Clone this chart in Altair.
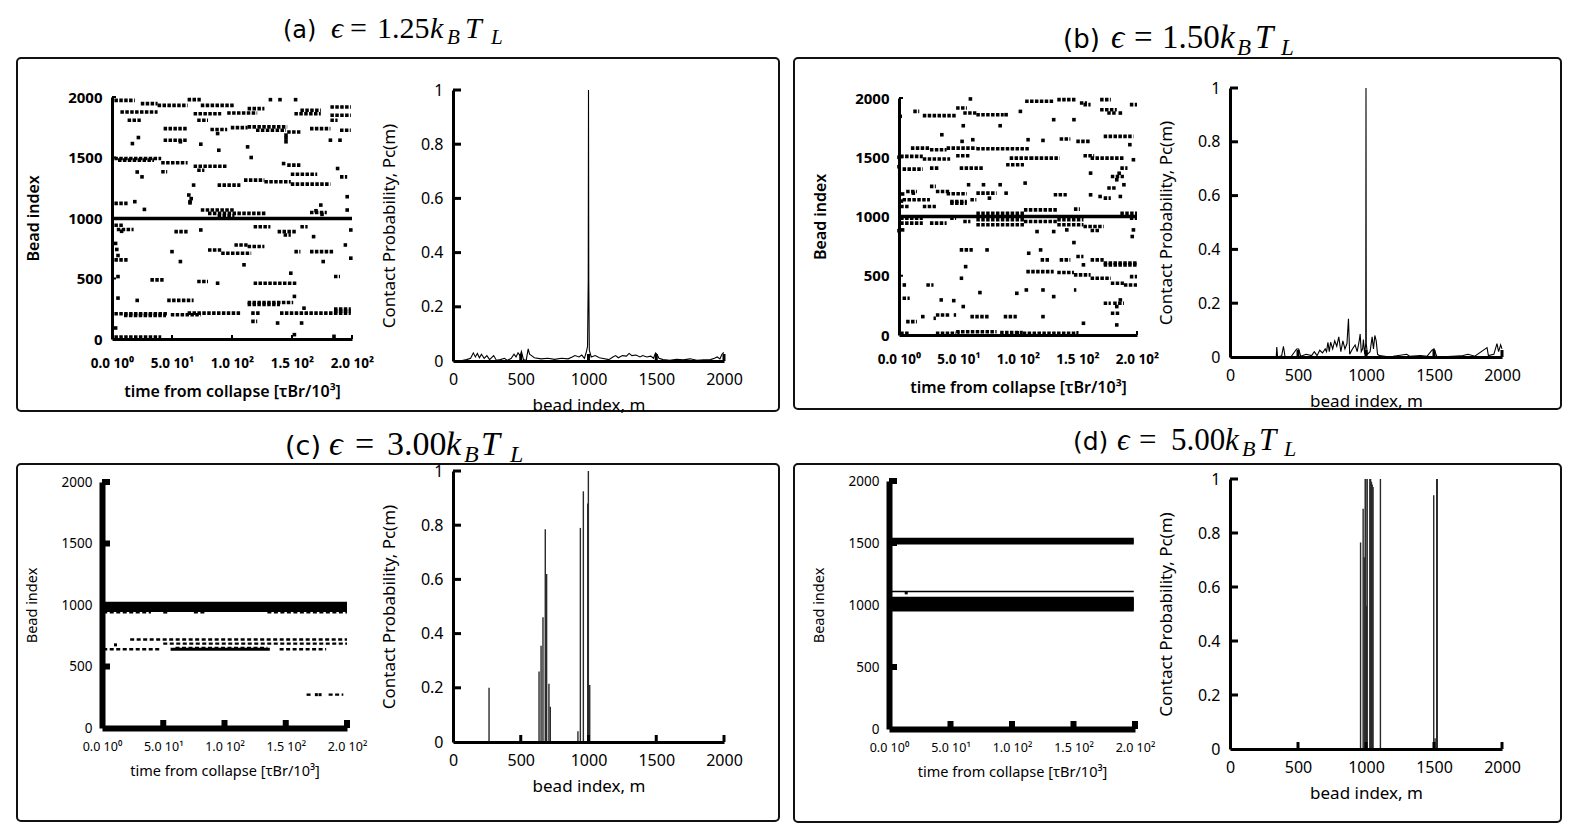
import altair as alt
import pandas as pd

# ----------------------------------------------------------------- data
TIME_TICKS = [0, 50, 100, 150, 200]
TIME_LABELS = ["0.0 10⁰", "5.0 10¹", "1.0 10²", "1.5 10²", "2.0 10²"]
BEAD_TICKS = [0, 500, 1000, 1500, 2000]
PROB_TICKS = [0, 0.2, 0.4, 0.6, 0.8, 1]
M_TICKS = [0, 500, 1000, 1500, 2000]

PANEL_TAGS = {"a": "(a)", "b": "(b)", "c": "(c)", "d": "(d)"}
EPS_VALUES = {"a": "1.25", "b": "1.50", "c": "3.00", "d": "5.00"}
TIME_TITLE = "time from collapse [τBr/10³]"
BEAD_TITLE = "Bead index"
PROB_TITLE = "Contact Probability, Pc(m)"
M_TITLE = "bead index, m"

# contact streaks seen in the bead-index vs time panels: (t_start, t_end, bead)
A_SOLID = [(0, 200, 995)]
A_STREAKS = [
    (2, 19, 1972), (24, 38, 1945), (38, 63, 1931), (63, 74, 1978), (74, 102, 1931), (113, 127, 1904),
    (157, 174, 1890), (182, 199, 1917),
    (7, 38, 1876), (68, 91, 1862), (96, 121, 1868), (152, 174, 1862), (182, 199, 1849),
    (13, 24, 1808), (71, 80, 1808), (182, 188, 1808),
    (43, 63, 1739), (82, 96, 1731), (99, 113, 1747), (113, 146, 1753), (120, 145, 1725), (146, 157, 1711),
    (165, 182, 1739), (190, 199, 1725),
    (43, 63, 1643),
    (2, 41, 1492), (5, 35, 1478), (41, 63, 1456), (68, 96, 1428), (146, 157, 1437),
    (41, 46, 1382), (71, 77, 1395), (149, 171, 1362),
    (110, 127, 1313), (127, 149, 1299), (149, 182, 1280), (88, 107, 1272), (190, 196, 1340),
    (2, 13, 1121),
    (74, 102, 1066), (80, 129, 1038), (88, 102, 1016), (165, 179, 1045),
    (2, 10, 940), (4, 18, 905), (52, 63, 887), (118, 132, 928), (138, 154, 887), (157, 163, 928),
    (143, 149, 860),
    (80, 91, 736), (91, 116, 709), (102, 113, 777), (113, 127, 764), (152, 157, 722), (165, 185, 722),
    (193, 196, 777),
    (2, 13, 654),
    (32, 43, 489), (71, 80, 475), (118, 154, 461), (185, 190, 516),
    (46, 68, 319), (113, 151, 302), (113, 140, 285), (185, 199, 247),
    (2, 46, 209), (10, 45, 195), (49, 74, 200), (63, 107, 214), (116, 124, 214), (140, 185, 214),
    (185, 199, 214), (185, 199, 230),
    (116, 121, 146),
    (2, 41, 16),
]
A_DOTS = [
    (132, 1978), (140, 1978), (153, 1978),
    (22, 1665), (88, 1698), (145, 1685), (145, 1660), (145, 1630), (190, 1643), (57, 1630),
    (17, 1615), (74, 1610), (89, 1560), (113, 1588), (182, 1643),
    (116, 1500), (143, 1450),
    (21, 1380), (25, 1340), (188, 1409),
    (68, 1272),
    (64, 1190), (66, 1160), (65, 1125),
    (19, 1135), (174, 1107), (196, 1176), (65, 1135),
    (27, 1071), (196, 1066), (170, 1060), (175, 1030),
    (74, 901), (199, 901), (8, 890),
    (168, 846),
    (3, 790), (4, 740), (5, 690), (50, 722), (57, 640),
    (110, 613), (176, 640), (199, 668),
    (5, 516), (88, 461), (149, 544),
    (5, 338), (21, 319), (152, 352), (160, 255),
    (138, 132), (158, 132),
    (152, 36), (185, 22), (3, 91),
]

B_SOLID = [(0, 200, 1000)]
B_STREAKS = [
    (106, 130, 1972), (133, 149, 1986), (152, 158, 1958), (169, 178, 1986), (155, 161, 1944), (194, 200, 1944),
    (12, 17, 1887), (20, 48, 1851), (48, 57, 1916), (54, 65, 1873), (65, 88, 1859), (169, 183, 1901),
    (175, 183, 1873),
    (172, 197, 1676), (135, 144, 1654), (149, 161, 1634), (107, 110, 1648),
    (10, 26, 1577), (26, 40, 1563), (40, 65, 1577), (65, 110, 1572),
    (1, 20, 1507), (20, 43, 1485), (48, 60, 1513), (93, 110, 1493), (110, 135, 1493), (155, 164, 1513),
    (161, 189, 1493),
    (90, 105, 1437),
    (3, 20, 1400), (26, 34, 1408), (51, 71, 1408), (186, 192, 1408),
    (178, 189, 1338),
    (26, 31, 1254), (57, 60, 1268), (175, 183, 1240),
    (6, 15, 1211), (31, 43, 1211), (40, 57, 1192), (65, 82, 1197), (130, 141, 1183),
    (3, 26, 1141), (43, 57, 1127), (43, 57, 1113), (60, 65, 1141), (172, 178, 1155),
    (1, 9, 1085), (20, 31, 1085), (105, 133, 1056), (147, 152, 1062),
    (1, 20, 986), (1, 20, 944), (26, 40, 944), (43, 48, 986), (54, 60, 958),
    (65, 105, 1028), (65, 105, 972), (65, 105, 930), (105, 133, 958), (133, 155, 972), (133, 155, 930),
    (155, 172, 916), (186, 200, 1028), (194, 200, 986),
    (161, 169, 882),
    (51, 62, 718),
    (119, 127, 634), (135, 144, 634), (149, 155, 662), (161, 172, 634), (172, 200, 592), (172, 200, 608),
    (51, 54, 479), (107, 130, 535), (133, 147, 527), (147, 161, 507), (161, 178, 479), (178, 189, 437),
    (189, 200, 422), (194, 200, 493),
    (3, 6, 422), (23, 29, 422),
    (147, 149, 380), (172, 178, 268), (180, 189, 268),
    (3, 9, 310), (34, 37, 296),
    (31, 43, 169), (46, 48, 169), (60, 76, 155), (88, 99, 155), (178, 186, 183),
    (6, 15, 113), (29, 31, 141),
    (1, 9, 14), (31, 48, 14), (48, 82, 28), (85, 104, 20), (104, 150, 14),
]
B_DOTS = [
    (60, 1992), (1, 1845), (90, 1859), (102, 1887), (186, 1873),
    (130, 1817), (147, 1817), (54, 1766), (85, 1766), (36, 1690),
    (53, 1634), (62, 1648), (121, 1642), (194, 1606), (197, 1479),
    (161, 1366), (183, 1310), (185, 1365),
    (12, 1197), (71, 1268), (85, 1268), (106, 1282), (189, 1268),
    (90, 1197), (161, 1183), (169, 1169), (76, 1155), (186, 1169),
    (3, 887), (116, 873), (130, 873), (141, 887), (197, 887), (196, 831),
    (147, 780), (74, 718), (119, 718), (109, 690), (155, 592), (56, 577),
    (68, 358), (99, 352), (107, 380), (121, 380), (130, 324), (46, 290), (54, 240),
    (183, 240), (186, 296), (20, 155), (121, 155), (155, 99), (183, 85),
    (0, 1500), (0, 1420), (3, 1190), (2, 1130), (0, 880),
]

C_SOLID = [(1, 200, 1015), (1, 200, 1000), (1, 200, 985), (1, 200, 970), (1, 200, 955), (56, 137, 640)]
C_STREAKS = [
    (1, 40, 940), (50, 55, 940), (75, 85, 940), (135, 200, 940),
    (23, 200, 720), (50, 200, 686), (1, 48, 640), (145, 183, 640), (60, 135, 650),
    (167, 172, 271), (185, 197, 271),
]
C_DOTS = [(11, 676), (175, 271), (178, 271)]

D_SOLID = [
    (1, 199, 1500), (1, 199, 1515), (1, 199, 1530),
    (1, 199, 960), (1, 199, 972), (1, 199, 984), (1, 199, 996), (1, 199, 1008),
    (1, 199, 1020), (1, 199, 1032), (1, 199, 1044), (1, 199, 1055),
]
D_THIN = [(1, 199, 1109)]
D_DOTS = [(14, 1098)]

# contact probability P_c(m)
A_LINE_M = [0, 50, 100, 130, 150, 165, 180, 195, 210, 230, 250, 270, 300, 320, 350, 380, 400, 430, 450, 465,
            480, 495, 505, 520, 540, 555, 565, 580, 600, 650, 700, 750, 800, 850, 880, 900, 930, 950, 970, 985,
            993, 998, 1000, 1002, 1006, 1020, 1050, 1080, 1100, 1150, 1180, 1200, 1220, 1250, 1280, 1300, 1320,
            1350, 1380, 1400, 1430, 1460, 1480, 1495, 1505, 1520, 1550, 1600, 1650, 1700, 1750, 1800, 1850,
            1900, 1930, 1950, 1970, 1985, 1995, 2000]
A_LINE_P = [0, 0, 0.005, 0.01, 0.03, 0.015, 0.028, 0.012, 0.025, 0.01, 0.02, 0.005, 0.02, 0.003, 0.005, 0.01,
            0.002, 0.01, 0.025, 0.015, 0.03, 0.02, 0.035, 0.005, 0.002, 0.045, 0.025, 0.02, 0.012, 0.008, 0.01,
            0.006, 0.01, 0.008, 0.015, 0.02, 0.015, 0.022, 0.01, 0.035, 0.055, 0.3, 1.0, 0.3, 0.04, 0.015, 0.02,
            0.012, 0.01, 0.005, 0.015, 0.02, 0.012, 0.02, 0.018, 0.028, 0.02, 0.022, 0.015, 0.02, 0.015, 0.018,
            0.01, 0.03, 0.025, 0.01, 0.005, 0.003, 0.006, 0.004, 0.008, 0.003, 0.004, 0.005, 0.01, 0.015, 0.008,
            0.025, 0.03, 0.03]

B_LINE_M = [0, 100, 200, 300, 340, 344, 350, 380, 393, 405, 450, 490, 495, 505, 520, 560, 600, 620, 640, 660,
            680, 700, 710, 720, 730, 740, 755, 770, 785, 800, 815, 830, 845, 860, 871, 880, 900, 920, 935, 950,
            957, 965, 975, 981, 990, 998, 1000, 1002, 1010, 1030, 1045, 1055, 1065, 1075, 1085, 1100, 1150, 1200,
            1300, 1320, 1400, 1450, 1485, 1500, 1520, 1600, 1700, 1750, 1800, 1890, 1900, 1940, 1963, 1975, 1990,
            2000]
B_LINE_P = [0, 0.002, 0.001, 0.002, 0, 0.037, 0, 0.005, 0.04, 0, 0.002, 0.03, 0.03, 0.03, 0.003, 0.01, 0.005,
            0.02, 0.005, 0.025, 0.015, 0.03, 0.02, 0.055, 0.02, 0.055, 0.03, 0.06, 0.04, 0.075, 0.02, 0.06, 0.03,
            0.05, 0.142, 0.01, 0.03, 0.045, 0.02, 0.06, 0.085, 0.02, 0.03, 0.065, 0.01, 0.05, 1.0, 0.05, 0.01,
            0.02, 0.075, 0.03, 0.08, 0.06, 0.01, 0.005, 0.002, 0.003, 0.01, 0.003, 0.005, 0.003, 0.025, 0.03,
            0.003, 0.002, 0.004, 0.01, 0.003, 0.035, 0.005, 0.01, 0.05, 0.02, 0.045, 0.03]

C_SPIKE_M = [266, 635, 650, 664, 681, 691, 708, 718, 922, 940, 962, 994, 999, 1009]
C_SPIKE_P = [0.20, 0.26, 0.355, 0.46, 0.785, 0.62, 0.215, 0.13, 0.04, 0.79, 0.925, 0.88, 1.0, 0.21]
D_SPIKE_M = [960, 979, 987, 994, 999, 1004, 1009, 1028, 1034, 1040, 1046, 1052, 1106, 1498, 1508, 1520, 1524]
D_SPIKE_P = [0.765, 0.89, 0.71, 1.0, 1.0, 0.53, 1.0, 1.0, 1.0, 0.99, 0.98, 0.97, 1.0, 0.94, 0.04, 1.0, 1.0]

# ----------------------------------------------------------------- layout / style
SANS = "Noto Sans"
SERIF = "Liberation Serif"
TAG_FONT = "DejaVu Sans"

GEOM = {
    "a": dict(W=762, H=353, sx=(95, 335), sy=(281, 39), lx=(436, 707), ly=(303, 32)),
    "b": dict(W=767, H=351, sx=(105, 343), sy=(277, 40), lx=(436, 708), ly=(299, 30)),
    "c": dict(W=762, H=357, sx=(85, 330), sy=(264, 18), lx=(436, 707), ly=(278, 7)),
    "d": dict(W=767, H=358, sx=(95, 341), sy=(265, 17), lx=(436, 708), ly=(285, 15)),
}
# x of: tag, epsilon, "=", value, k, B, T, L  (relative to the panel frame)
TITLE_POS = {
    "a": dict(base=-20, xs=[266, 314, 333, 360, 413, 430, 448, 474], main=30, tag=24),
    "b": dict(base=-10, xs=[269, 317, 340, 368, 426, 443, 461, 487], main=33, tag=26),
    "c": dict(base=-9, xs=[268, 312, 338, 370, 429, 447, 464, 493], main=34, tag=27),
    "d": dict(base=-14, xs=[279, 323, 345, 377, 431, 448, 465, 490], main=31, tag=25),
}
STY = {
    "ab": dict(dom=3, ylab=15, xlab=13.5, lw="bold", tit=16, tw=600, tick_len=4, tick_th=2,
               streak_w=3.6, dash=[3.5, 1.4], solid_w=3.5, dot=13, ylpad=10, xlpad=17, ytpad=26, xtpad=14),
    "cd": dict(dom=6, ylab=13.5, xlab=12.5, lw="normal", tit=14.5, tw="normal", tick_len=8, tick_th=6,
               streak_w=2.4, dash=[4, 2.5], solid_w=3, dot=9, ylpad=10, xlpad=12, ytpad=22, xtpad=12),
}

LABEL_EXPR = " : ".join(f"datum.value == {v} ? '{l}'" for v, l in zip(TIME_TICKS, TIME_LABELS)) + " : ''"


def seg_df(rows):
    return pd.DataFrame(rows, columns=["t0", "t1", "b"])


def scatter_layers(g, s, solids, streaks, thins, dots):
    xs = alt.Scale(domain=[0, 200], range=list(g["sx"]), nice=False, zero=False)
    ys = alt.Scale(domain=[0, 2000], range=list(g["sy"]), nice=False, zero=False)
    xa = alt.Axis(orient="bottom", offset=g["sy"][0] - g["H"], values=TIME_TICKS, labelExpr=LABEL_EXPR,
                  title=TIME_TITLE, ticks=False, grid=False, domainColor="black", domainWidth=s["dom"],
                  labelFont=SANS, labelFontSize=s["xlab"], labelFontWeight=s["lw"],
                  labelColor="black", labelPadding=s["xlpad"], labelFlush=False, labelOverlap=False,
                  titleFont=SANS, titleFontSize=s["tit"], titleFontWeight=s["tw"], titleColor="black",
                  titlePadding=s["xtpad"], zindex=1)
    ya = alt.Axis(orient="left", offset=-g["sx"][0], values=BEAD_TICKS, format="d", title=BEAD_TITLE,
                  ticks=False, grid=False, domainColor="black", domainWidth=s["dom"],
                  labelFont=SANS, labelFontSize=s["ylab"], labelFontWeight=s["lw"], labelColor="black",
                  labelPadding=s["ylpad"], labelFlush=False, labelOverlap=False,
                  titleFont=SANS, titleFontSize=s["tit"], titleFontWeight=s["tw"], titleColor="black",
                  titlePadding=s["ytpad"], zindex=1)
    layers = [
        alt.Chart(seg_df(solids)).mark_rule(color="black", strokeWidth=s["solid_w"]).encode(
            x=alt.X("t0:Q", scale=xs, axis=xa), x2="t1:Q", y=alt.Y("b:Q", scale=ys, axis=ya))
    ]
    if streaks:
        layers.append(alt.Chart(seg_df(streaks)).mark_rule(
            color="black", strokeWidth=s["streak_w"], strokeDash=s["dash"]).encode(
            x=alt.X("t0:Q", scale=xs, axis=None), x2="t1:Q", y=alt.Y("b:Q", scale=ys, axis=None)))
    if thins:
        layers.append(alt.Chart(seg_df(thins)).mark_rule(color="black", strokeWidth=1.5).encode(
            x=alt.X("t0:Q", scale=xs, axis=None), x2="t1:Q", y=alt.Y("b:Q", scale=ys, axis=None)))
    if dots:
        layers.append(alt.Chart(pd.DataFrame(dots, columns=["t", "b"])).mark_square(
            size=s["dot"], color="black", opacity=1).encode(
            x=alt.X("t:Q", scale=xs, axis=None), y=alt.Y("b:Q", scale=ys, axis=None)))
    L, T = s["tick_len"], s["tick_th"]
    layers.append(alt.Chart(pd.DataFrame({"b": BEAD_TICKS[1:], "t": [0] * 4})).mark_tick(
        orient="horizontal", size=L, thickness=T, xOffset=L / 2, color="black", opacity=1).encode(
        x=alt.X("t:Q", scale=xs, axis=None), y=alt.Y("b:Q", scale=ys, axis=None)))
    layers.append(alt.Chart(pd.DataFrame({"t": TIME_TICKS[1:], "b": [0] * 4})).mark_tick(
        orient="vertical", size=L, thickness=T, yOffset=-L / 2, color="black", opacity=1).encode(
        x=alt.X("t:Q", scale=xs, axis=None), y=alt.Y("b:Q", scale=ys, axis=None)))
    return layers


def prob_layers(g, m, p, spikes):
    xs = alt.Scale(domain=[0, 2000], range=list(g["lx"]), nice=False, zero=False)
    ys = alt.Scale(domain=[0, 1], range=list(g["ly"]), nice=False, zero=False)
    xa = alt.Axis(orient="bottom", offset=g["ly"][0] - g["H"], values=M_TICKS, format="d", title=M_TITLE,
                  ticks=False, grid=False, domainColor="black", domainWidth=3,
                  labelFont=SANS, labelFontSize=16, labelColor="black", labelPadding=10, labelFlush=False,
                  labelOverlap=False, titleFont=SANS, titleFontSize=17, titleFontWeight="normal",
                  titleColor="black", titlePadding=10, zindex=1)
    ya = alt.Axis(orient="left", offset=-g["lx"][0], values=PROB_TICKS, format="~g", title=PROB_TITLE,
                  ticks=False, grid=False, domainColor="black", domainWidth=3,
                  labelFont=SANS, labelFontSize=16, labelColor="black", labelPadding=10, labelFlush=False,
                  labelOverlap=False, titleFont=SANS, titleFontSize=17, titleFontWeight="normal",
                  titleColor="black", titlePadding=22, zindex=1)
    if spikes:
        df = pd.DataFrame({"m": m, "p": p, "z": [0] * len(m)})
        main = alt.Chart(df).mark_rule(color="#2a2a2a", strokeWidth=1.4).encode(
            x=alt.X("m:Q", scale=xs, axis=xa), y=alt.Y("p:Q", scale=ys, axis=ya), y2="z:Q")
    else:
        df = pd.DataFrame({"m": m, "p": p})
        main = alt.Chart(df).mark_line(color="black", strokeWidth=1.1).encode(
            x=alt.X("m:Q", scale=xs, axis=xa), y=alt.Y("p:Q", scale=ys, axis=ya))
    yt = alt.Chart(pd.DataFrame({"p": PROB_TICKS[1:], "m": [0] * 5})).mark_tick(
        orient="horizontal", size=8, thickness=3, xOffset=4, color="black", opacity=1).encode(
        x=alt.X("m:Q", scale=xs, axis=None), y=alt.Y("p:Q", scale=ys, axis=None))
    xt = alt.Chart(pd.DataFrame({"m": M_TICKS[1:], "p": [0] * 4})).mark_tick(
        orient="vertical", size=7, thickness=3, yOffset=-3.5, color="black", opacity=1).encode(
        x=alt.X("m:Q", scale=xs, axis=None), y=alt.Y("p:Q", scale=ys, axis=None))
    return [main, yt, xt]


def txt(s, x, y, font, size, style="normal"):
    return alt.Chart(alt.Data(values=[{}])).mark_text(
        text=s, font=font, fontSize=size, fontStyle=style, align="left", baseline="alphabetic",
        color="black").encode(x=alt.value(x), y=alt.value(y))


def title_layers(key):
    tp = TITLE_POS[key]
    xs, base, main = tp["xs"], tp["base"], tp["main"]
    sub = round(main * 0.7)
    sub_base = base + round(main * 0.2)
    return [
        txt(PANEL_TAGS[key], xs[0], base, TAG_FONT, tp["tag"]),
        txt("ϵ", xs[1], base, SERIF, main, "italic"),
        txt("=", xs[2], base, SERIF, main),
        txt(EPS_VALUES[key], xs[3], base, SERIF, main),
        txt("k", xs[4], base, SERIF, main, "italic"),
        txt("B", xs[5], sub_base, SERIF, sub, "italic"),
        txt("T", xs[6], base, SERIF, main, "italic"),
        txt("L", xs[7], sub_base, SERIF, sub, "italic"),
    ]


def panel(key, style, solids, streaks, thins, dots, m, p, spikes):
    g = GEOM[key]
    s = STY[style]
    layers = (scatter_layers(g, s, solids, streaks, thins, dots) + prob_layers(g, m, p, spikes)
              + title_layers(key))
    return alt.layer(*layers).resolve_scale(x="independent", y="independent").properties(
        width=g["W"], height=g["H"],
        view=alt.ViewBackground(stroke="#111111", strokeWidth=2, cornerRadius=4),
    )


pa = panel("a", "ab", A_SOLID, A_STREAKS, [], A_DOTS, A_LINE_M, A_LINE_P, False)
pb = panel("b", "ab", B_SOLID, B_STREAKS, [], B_DOTS, B_LINE_M, B_LINE_P, False)
pc = panel("c", "cd", C_SOLID, C_STREAKS, [], C_DOTS, C_SPIKE_M, C_SPIKE_P, True)
pd_ = panel("d", "cd", D_SOLID, [], D_THIN, D_DOTS, D_SPIKE_M, D_SPIKE_P, True)

chart = alt.concat(pa, pb, pc, pd_, columns=2, spacing={"row": 53, "column": 15},
                   bounds="flush", align="each").properties(
    padding={"left": 8, "top": 5, "right": 5, "bottom": 5}
).configure_view(strokeWidth=0).configure(font=SANS, background="white")

chart.save("out.html", embed_options={"renderer": "svg", "actions": False})
